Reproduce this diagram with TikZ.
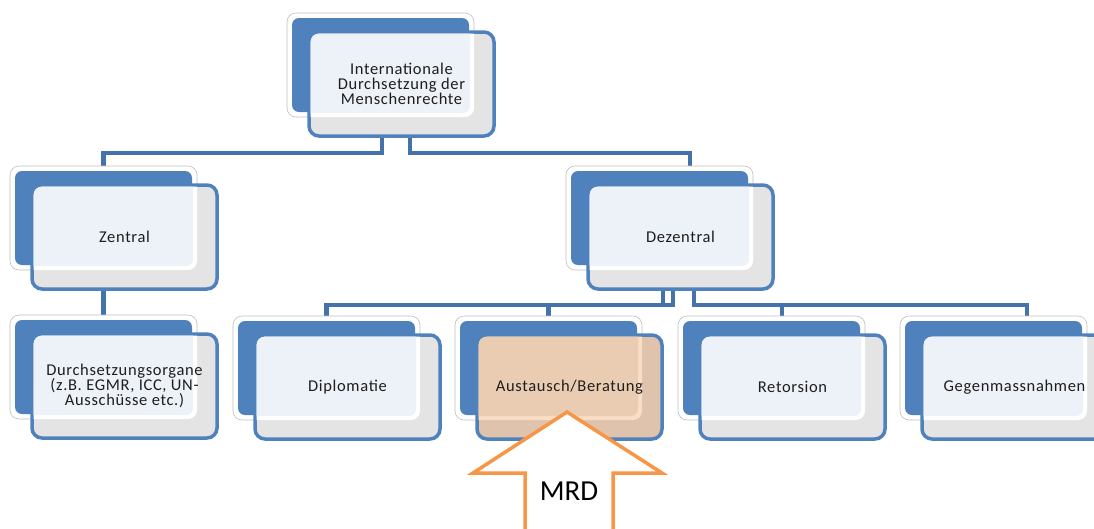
\documentclass[tikz,border=0pt]{standalone}
\usepackage{fontspec}
\setmainfont{Carlito}
\newfontfamily\boxfont[LetterSpace=4]{Carlito}
\usetikzlibrary{calc}
\pgfdeclarelayer{bg}
\pgfsetlayers{bg,main}
\definecolor{boxblue}{HTML}{4F81BD}
\definecolor{connblue}{HTML}{4472AC}
\definecolor{paleblue}{HTML}{EDF1F8}
\definecolor{stripgrey}{HTML}{E4E4E4}
\definecolor{peach}{HTML}{EACCB2}
\definecolor{peachstrip}{HTML}{DFC3AC}
\definecolor{peachring}{HTML}{FADDC5}
\definecolor{mrdorange}{HTML}{F79646}
\definecolor{txt}{HTML}{1E1E1E}
\tikzset{
  backbox/.style={minimum width=187pt, minimum height=104pt, inner sep=0pt, outer sep=0pt,
    fill=white, draw=black!25, line width=0.6pt, rounded corners=9pt},
  frontbox/.style={minimum width=185pt, minimum height=104pt, inner sep=0pt, outer sep=0pt,
    draw=boxblue, line width=3.5pt, rounded corners=10pt},
  boxtext/.style={align=center, text=txt, inner sep=0pt,
    font=\boxfont\fontsize{16.5}{15}\selectfont},
  conn/.style={draw=connblue, line width=4.5pt},
  bigarrow/.style={draw=mrdorange, fill=white, line width=3.5pt, line join=miter}
}
\newcommand\smartbox[7]{%
  \node[backbox, anchor=north west] (#1B) at (#2,#3) {};
  \fill[boxblue, rounded corners=7pt] ({#2+5},{#3+5}) rectangle ({#2+182},{#3+99});
  \node[frontbox, fill=#6, anchor=north west] (#1) at ({#2+22},{#3+19}) {};
  \begin{scope}
    \clip[rounded corners=8pt] ({#2+23.7},{#3+20.7}) rectangle ({#2+205.3},{#3+121.3});
    \fill[#7, rounded corners=9pt] (#2,#3) rectangle ({#2+187},{#3+104});
    \fill[#5, rounded corners=7pt] ({#2+4},{#3+4}) rectangle ({#2+183},{#3+100});
  \end{scope}
  \node[boxtext] (#1T) at (#1.center) {#4};
}
\begin{document}
\begin{tikzpicture}[x=1pt,y=-1pt]
\useasboundingbox (0,0) rectangle (1094,528);
\clip (0,0) rectangle (1094,528);

\smartbox{top}{287}{13}{Internationale\\Durchsetzung der\\Menschenrechte}{paleblue}{stripgrey}{white}
\smartbox{zent}{10}{166}{Zentral}{paleblue}{stripgrey}{white}
\smartbox{dez}{566}{166}{Dezentral}{paleblue}{stripgrey}{white}
\smartbox{dur}{10}{315}{Durchsetzungsorgane\\(z.B. EGMR, ICC, UN-\\Ausschüsse etc.)}{paleblue}{stripgrey}{white}
\smartbox{dip}{233}{316}{Diplomatie}{paleblue}{stripgrey}{white}
\smartbox{aus}{455}{316}{Austausch/Beratung}{peach}{peachstrip}{peachring}
\smartbox{ret}{678}{316}{Retorsion}{paleblue}{stripgrey}{white}
\smartbox{geg}{900}{316}{Gegenmassnahmen}{paleblue}{stripgrey}{white}

\begin{pgfonlayer}{bg}
  \draw[conn] ([xshift=-19.5pt]top.south) |- ([yshift=13pt]zentB.north) -- (zentB.north);
  \draw[conn] ([xshift=8.5pt]top.south) |- ([xshift=30.5pt,yshift=13pt]dezB.north) -- ([xshift=30.5pt]dezB.north);
  \draw[conn] (zent.south -| durB.north) -- (durB.north);
  \draw[conn] ([xshift=-17.5pt]dez.south) |- ([yshift=11pt]dipB.north) -- (dipB.north);
  \draw[conn] ([xshift=-7.5pt]dez.south) |- ([yshift=11pt]ausB.north) -- (ausB.north);
  \draw[conn] ([xshift=13.5pt]dez.south) |- ([xshift=10.5pt,yshift=11pt]retB.north) -- ([xshift=10.5pt]retB.north);
  \draw[conn] ([xshift=13.5pt]dez.south) |- ([xshift=33.5pt,yshift=11pt]gegB.north) -- ([xshift=33.5pt]gegB.north);
\end{pgfonlayer}

\draw[bigarrow] (567,412) -- (662,473) -- (613,473) -- (613,545) -- (525,545) -- (525,473) -- (473,473) -- cycle;
\node[font=\fontsize{29}{29}\selectfont, text=black] (mrd) at (569,491) {MRD};
\end{tikzpicture}
\end{document}
